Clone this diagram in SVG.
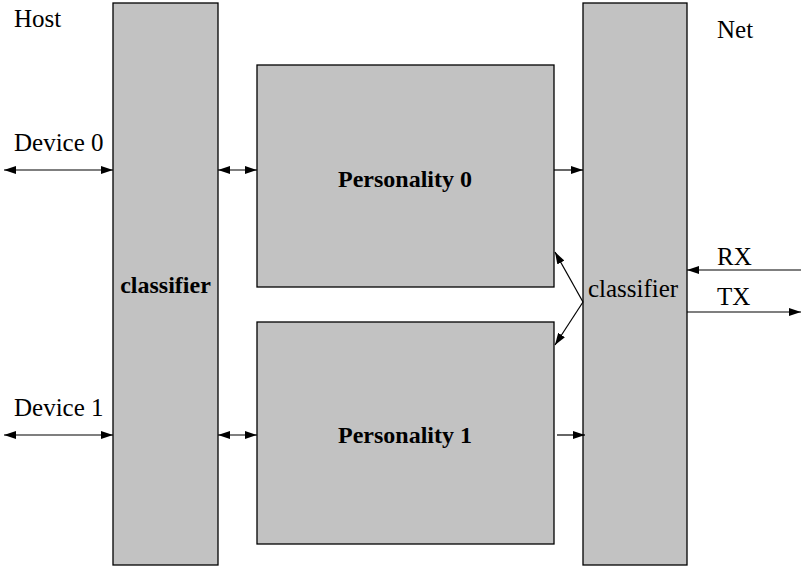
<svg xmlns="http://www.w3.org/2000/svg" width="801" height="566" viewBox="0 0 801 566">
<style>
.box{fill:#c2c2c2;stroke:#000;stroke-width:1.3}
.t{font-family:"Liberation Serif",serif;font-size:25px;fill:#000}
.b{font-family:"Liberation Serif",serif;font-size:24px;font-weight:bold;fill:#000}
.c line{stroke:#000;stroke-width:1.2}
</style>
<defs>
<marker id="ah" viewBox="0 0 12 8" refX="12" refY="4" markerWidth="12" markerHeight="8" markerUnits="userSpaceOnUse" orient="auto-start-reverse"><path d="M0,0 L12,4 L0,8 Z" fill="#000"/></marker>
</defs>
<g id="classifierL"><rect class="box" x="113" y="3" width="105" height="562"/><text class="b" x="165.5" y="293" text-anchor="middle">classifier</text></g>
<g id="personality0"><rect class="box" x="257" y="65" width="297" height="222"/><text class="b" x="405" y="187" text-anchor="middle">Personality 0</text></g>
<g id="personality1"><rect class="box" x="257" y="322" width="297" height="222"/><text class="b" x="405" y="443" text-anchor="middle">Personality 1</text></g>
<g id="classifierR"><rect class="box" x="583" y="3" width="104" height="562"/><text class="t" x="633" y="297" text-anchor="middle">classifier</text></g>
<g id="labels">
<text class="t" x="14" y="27">Host</text>
<text class="t" x="717" y="38">Net</text>
<text class="t" x="14" y="151">Device 0</text>
<text class="t" x="14" y="416">Device 1</text>
<text class="t" x="717" y="265">RX</text>
<text class="t" x="717" y="305">TX</text>
</g>
<g class="c" id="connectors">
<line x1="4" y1="170" x2="113" y2="170" marker-start="url(#ah)" marker-end="url(#ah)"/>
<line x1="218" y1="170" x2="257" y2="170" marker-start="url(#ah)" marker-end="url(#ah)"/>
<line x1="554" y1="170" x2="583" y2="170" marker-end="url(#ah)"/>
<line x1="4" y1="435" x2="113" y2="435" marker-start="url(#ah)" marker-end="url(#ah)"/>
<line x1="218" y1="435" x2="257" y2="435" marker-start="url(#ah)" marker-end="url(#ah)"/>
<line x1="557" y1="435" x2="585" y2="435" marker-end="url(#ah)"/>
<line x1="583" y1="302" x2="555" y2="252" marker-end="url(#ah)"/>
<line x1="583" y1="302" x2="555" y2="345" marker-end="url(#ah)"/>
<line x1="801" y1="270" x2="687" y2="270" marker-end="url(#ah)"/>
<line x1="687" y1="312" x2="801" y2="312" marker-end="url(#ah)"/>
</g>
</svg>
